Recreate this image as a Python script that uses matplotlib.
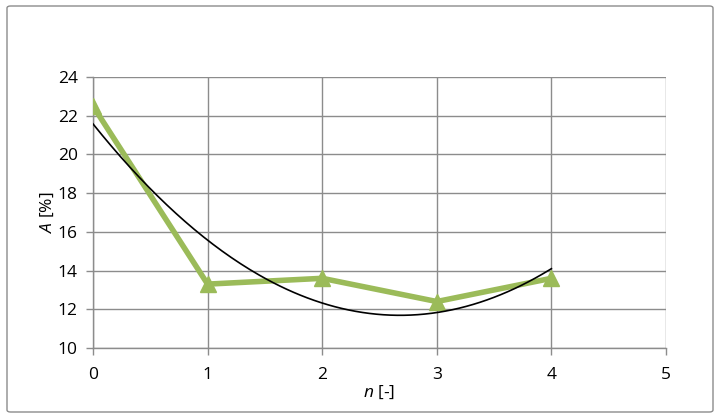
import numpy as np
import matplotlib
matplotlib.use('Agg')
import matplotlib.pyplot as plt
from matplotlib.patches import FancyBboxPatch

# data
n_vals = [0, 1, 2, 3, 4]
a_vals = [22.5, 13.3, 13.6, 12.4, 13.6]
x_ticks = [0, 1, 2, 3, 4, 5]
y_ticks = [10, 12, 14, 16, 18, 20, 22, 24]

plt.rcParams['font.family'] = ['Open Sans', 'DejaVu Sans']
plt.rcParams['mathtext.fontset'] = 'custom'
plt.rcParams['mathtext.it'] = 'Open Sans:italic'
plt.rcParams['mathtext.rm'] = 'Open Sans'

fig = plt.figure(figsize=(7.2, 4.18), dpi=100)
ax = fig.add_axes([93 / 720, 1 - 348 / 418, (666 - 93) / 720, (348 - 77) / 418])

# outer chart border
border = FancyBboxPatch((7 / 720, 6 / 418), 706 / 720, 406 / 418,
                        boxstyle='round,pad=0,rounding_size=0.005',
                        transform=fig.transFigure, fill=False,
                        edgecolor='#8c8c8c', linewidth=1.0)
fig.patches.append(border)

# quadratic trendline (as in Excel)
coef = np.polyfit(n_vals, a_vals, 2)
xs = np.linspace(n_vals[0], n_vals[-1], 200)
ax.plot(xs, np.polyval(coef, xs), color='black', linewidth=1.2, zorder=4)

ax.plot(n_vals, a_vals, color='#9bbb59', linewidth=4.0, marker='^',
        markersize=11, markeredgecolor='#9bbb59', zorder=3)

ax.set_xlim(0, 5)
ax.set_ylim(10, 24)
ax.set_xticks(x_ticks)
ax.set_yticks(y_ticks)
ax.grid(True, color='#8c8c8c', linewidth=1.0)
ax.set_axisbelow(True)
for side in ['top', 'right']:
    ax.spines[side].set_visible(False)
for side in ['left', 'bottom']:
    ax.spines[side].set_color('#8c8c8c')
    ax.spines[side].set_linewidth(1.0)
ax.tick_params(direction='out', length=5, width=1.0, color='#8c8c8c',
               labelsize=12.5, labelcolor='black', pad=6)
ax.tick_params(axis='x', pad=9)

ax.set_xlabel(r'$\it{n}$ [-]', fontsize=12.5, labelpad=0)
ax.set_ylabel(r'$\it{A}$ [%]', fontsize=12.5, labelpad=1)

fig.savefig('out.png', dpi=100)
